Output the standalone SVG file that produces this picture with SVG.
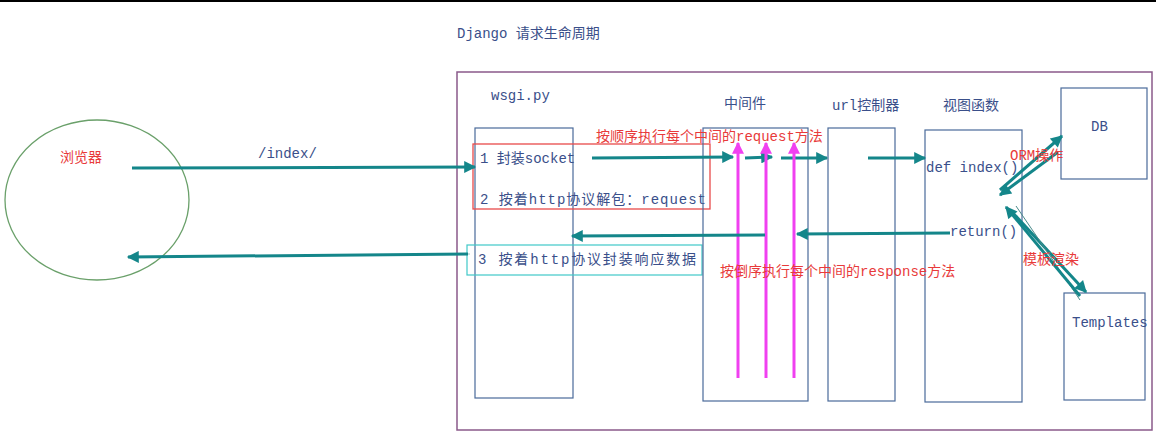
<svg xmlns="http://www.w3.org/2000/svg" width="1156" height="432" viewBox="0 0 1156 432">
<style>
.b{fill:none;stroke:#4a6a9a;stroke-width:1.2}
.t{font-family:"Liberation Mono","Noto Sans CJK SC",monospace;font-size:14px;fill:#3a4f8a}
.r{font-family:"Liberation Mono","Noto Sans CJK SC",monospace;font-size:14px;fill:#e83a3a}
.a{stroke:#14868a;stroke-width:3;fill:none;marker-end:url(#h)}
.m{stroke:#f040f0;stroke-width:3;fill:none;marker-end:url(#hm)}
</style>
<defs>
<marker id="h" viewBox="0 0 10 10" refX="9" refY="5" markerWidth="4.5" markerHeight="4" orient="auto"><path d="M0,0L10,5L0,10z" fill="#14868a"/></marker>
<marker id="hm" viewBox="0 0 10 10" refX="9" refY="5" markerWidth="4" markerHeight="4" orient="auto"><path d="M0,0L10,5L0,10z" fill="#f040f0"/></marker>
</defs>
<rect width="1156" height="432" fill="#fff"/>
<line x1="0" y1="1" x2="1156" y2="1" stroke="#000" stroke-width="2"/>
<text class="t" x="457" y="38">Django 请求生命周期</text>
<g id="browser"><ellipse cx="97" cy="200" rx="92" ry="80" fill="none" stroke="#6aa06a" stroke-width="1.3"/><text class="r" x="60" y="162">浏览器</text></g>
<g id="outer"><rect x="457" y="72" width="695" height="358" fill="none" stroke="#8a5a8a" stroke-width="1.5"/></g>
<g id="wsgi"><rect class="b" x="475" y="128" width="98" height="270"/><text class="t" x="491" y="100">wsgi.py</text>
<rect x="473" y="144" width="237" height="65" fill="none" stroke="#e84a4a" stroke-width="1.3"/>
<text class="t" x="480" y="163" font-size="15" fill="#333">1 封装socket</text>
<text class="t" x="480" y="204" font-size="15" textLength="226">2 按着http协议解包：request</text>
<rect x="467" y="245" width="235" height="30" fill="none" stroke="#40c8c8" stroke-width="1.2"/>
<text class="t" x="478" y="264" font-size="15" textLength="218">3 按着http协议封装响应数据</text></g>
<g id="middleware"><rect class="b" x="703" y="128" width="105" height="273"/><text class="t" x="724" y="108" font-size="16">中间件</text></g>
<g id="url"><rect class="b" x="828" y="128" width="67" height="273"/><text class="t" x="832" y="110" font-size="15">url控制器</text></g>
<g id="view"><rect class="b" x="925" y="130" width="97" height="272"/><text class="t" x="943" y="110" font-size="15">视图函数</text>
<text class="t" x="926" y="172" font-size="15">def index()</text><text class="t" x="950" y="236" font-size="15">return()</text></g>
<g id="db"><rect class="b" x="1061" y="88" width="86" height="91"/><text class="t" x="1091" y="131">DB</text></g>
<g id="templates"><rect class="b" x="1064" y="293" width="81" height="107"/><text class="t" x="1072" y="327">Templates</text></g>
<g id="connectors">
<text class="t" x="258" y="158">/index/</text>
<line class="a" x1="132" y1="168" x2="475" y2="167"/>
<line x1="440" y1="254" x2="470" y2="254" stroke="#9ac8c8" stroke-width="1"/>
<line class="a" x1="468" y1="254" x2="128" y2="257"/>
<line class="a" x1="592" y1="158" x2="733" y2="157"/>
<line class="a" x1="745" y1="158" x2="772" y2="157"/>
<line class="a" x1="781" y1="158" x2="827" y2="158"/>
<line class="a" x1="868" y1="158" x2="925" y2="158"/>
<line class="m" x1="738" y1="378" x2="738" y2="143"/>
<line class="m" x1="766" y1="378" x2="766" y2="143"/>
<line class="m" x1="794" y1="378" x2="794" y2="143"/>
<line class="a" x1="950" y1="233" x2="797" y2="234"/>
<line class="a" x1="765" y1="235" x2="572" y2="236"/>
<line class="a" x1="1000" y1="190" x2="1062" y2="136"/>
<line class="a" x1="1058" y1="152" x2="1000" y2="195"/>
<line class="a" x1="1012" y1="212" x2="1086" y2="292"/>
<line x1="1016" y1="206" x2="1080" y2="300" stroke="#4a8a8a" stroke-width="1"/>
<line class="a" x1="1080" y1="296" x2="1006" y2="207"/>
<text class="r" x="596" y="141">按顺序执行每个中间的request方法</text>
<text class="r" x="720" y="276">按倒序执行每个中间的response方法</text>
<text class="r" x="1010" y="160">ORM操作</text>
<text class="r" x="1023" y="264">模板渲染</text>
</g>
</svg>
